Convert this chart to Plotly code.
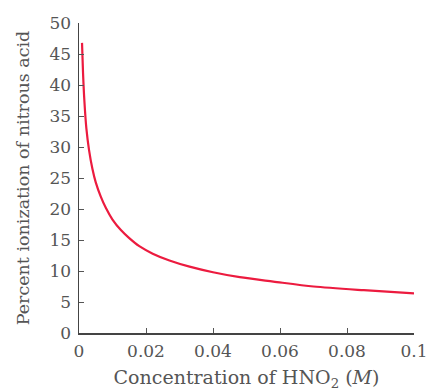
import plotly.graph_objects as go

# Values
concentration = [0.0009, 0.0012, 0.0016, 0.0022, 0.0030, 0.0040, 0.0050, 0.0065,
                 0.0080, 0.0100, 0.0125, 0.0150, 0.0180, 0.0220, 0.0270, 0.0330,
                 0.0400, 0.0480, 0.0580, 0.0700, 0.0850, 0.1000]
percent_ionization = [46.8, 42.0, 37.5, 33.0, 29.5, 26.5, 24.3, 22.0,
                      20.2, 18.3, 16.6, 15.3, 14.0, 12.8, 11.7, 10.7,
                      9.8, 9.0, 8.3, 7.5, 6.9, 6.4]

x_ticks = [0, 0.02, 0.04, 0.06, 0.08, 0.1]
x_tick_labels = ["0", "0.02", "0.04", "0.06", "0.08", "0.1"]
y_ticks = [0, 5, 10, 15, 20, 25, 30, 35, 40, 45, 50]

font_family = "DejaVu Serif"
text_color = "#555555"

fig = go.Figure()
fig.add_trace(go.Scatter(
    x=concentration, y=percent_ionization, mode="lines",
    line=dict(color="#ec1b3f", width=2.2, shape="spline", smoothing=0.8),
    hoverinfo="skip", showlegend=False,
))

fig.update_layout(
    width=429, height=391,
    margin=dict(l=79, r=15, t=23, b=58, autoexpand=False),
    paper_bgcolor="white", plot_bgcolor="white",
    font=dict(family=font_family, size=17, color=text_color),
    xaxis=dict(
        range=[0, 0.1], tickvals=x_ticks, ticktext=x_tick_labels,
        ticks="inside", ticklen=5, tickcolor="#555555", tickwidth=1,
        showline=True, linecolor="#444444", linewidth=1.5,
        showgrid=False, zeroline=False, automargin=False,
        tickfont=dict(size=17), ticklabelstandoff=2,
        ticklabeloverflow="allow",
        title=dict(text="Concentration of HNO<sub>2</sub> (<i>M</i>)",
                   standoff=12, font=dict(size=19, color=text_color)),
    ),
    yaxis=dict(
        range=[0, 50], tickvals=y_ticks,
        ticks="inside", ticklen=5, tickcolor="#555555", tickwidth=1,
        showline=True, linecolor="#444444", linewidth=1.5,
        showgrid=False, zeroline=False, automargin=False,
        tickfont=dict(size=17), ticklabelstandoff=3,
        ticklabeloverflow="allow",
        title=dict(text="Percent ionization of nitrous acid",
                   standoff=15, font=dict(size=17.5, color=text_color)),
    ),
)

fig.write_html(
    "out.html",
    config={"displayModeBar": False, "staticPlot": True},
    post_script="document.body.style.margin='0';document.body.style.overflow='hidden';",
)
